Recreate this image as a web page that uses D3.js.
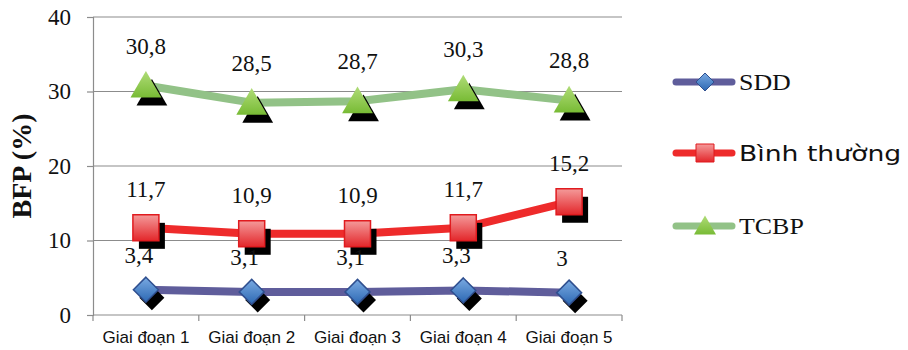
<!DOCTYPE html>
<html>
<head>
<meta charset="utf-8">
<script src="https://cdn.jsdelivr.net/npm/d3@7"></script>
<style>
  html, body { margin: 0; padding: 0; background: #fff; }
  svg { display: block; }
</style>
</head>
<body>
<svg id="chart" width="908" height="350"></svg>
<script>
// Body fat percentage (BFP) by stage for three nutrition groups
const categories = ["Giai đoạn 1", "Giai đoạn 2", "Giai đoạn 3", "Giai đoạn 4", "Giai đoạn 5"];
const sddValues = [3.4, 3.1, 3.1, 3.3, 3.0];
const binhThuongValues = [11.7, 10.9, 10.9, 11.7, 15.2];
const tcbpValues = [30.8, 28.5, 28.7, 30.3, 28.8];
const yTicks = [0, 10, 20, 30, 40];
const seriesNames = ["SDD", "Bình thường", "TCBP"];

const SERIF = "'Liberation Serif', 'Times New Roman', serif";
const SANS = "'Liberation Sans', Arial, sans-serif";
const LEGEND_SANS = "'DejaVu Sans', Verdana, sans-serif";

const series = [
  { name: seriesNames[0], values: sddValues, line: "#5f5d9b", shape: "diamond", grad: ["#7aaae2", "#2c68b3"], stroke: "#2f4f8f",
    font: SERIF, size: 24, sx: 1.08, labelDx: -7, labelDy: -27 },
  { name: seriesNames[1], values: binhThuongValues, line: "#ee2b2b", shape: "square", grad: ["#f49a9a", "#e3262a"], stroke: "#e01b1f",
    font: LEGEND_SANS, size: 21.5, sx: 1.24, labelDx: 0, labelDy: -31 },
  { name: seriesNames[2], values: tcbpValues, line: "#92c287", shape: "triangle", grad: ["#b0dc78", "#78bb35"], stroke: "none",
    font: SERIF, size: 24, sx: 1.08, labelDx: 0, labelDy: -32 }
];

const svg = d3.select("#chart");
const margin = { left: 93, right: 286, top: 17, bottom: 35 };
const W = 908, H = 350;

const x = d3.scaleBand().domain(categories).range([margin.left, W - margin.right]).paddingInner(0).paddingOuter(0);
const y = d3.scaleLinear().domain([0, 40]).range([H - margin.bottom, margin.top]);

const defs = svg.append("defs");
series.forEach((s, i) => {
  const g = defs.append("linearGradient").attr("id", "grad" + i)
    .attr("x1", 0).attr("y1", 0).attr("x2", 0).attr("y2", 1);
  g.append("stop").attr("offset", "0%").attr("stop-color", s.grad[0]);
  g.append("stop").attr("offset", "100%").attr("stop-color", s.grad[1]);
});

// Horizontal gridlines
svg.append("g").selectAll("line").data(yTicks.filter(d => d > 0)).join("line")
  .attr("x1", margin.left).attr("x2", W - margin.right)
  .attr("y1", d => y(d)).attr("y2", d => y(d))
  .attr("stroke", "#8c8c8c").attr("stroke-width", 1.2);

// Y axis
const yAxis = svg.append("g").attr("transform", `translate(${margin.left},0)`)
  .call(d3.axisLeft(y).tickValues(yTicks).tickSize(6).tickPadding(16).tickFormat(d3.format("d")));
yAxis.select(".domain").attr("stroke", "#8c8c8c").attr("stroke-width", 1.2);
yAxis.selectAll(".tick line").attr("stroke", "#8c8c8c").attr("stroke-width", 1.2);
yAxis.selectAll("text").attr("font-family", SERIF)
  .attr("font-size", 23).attr("fill", "#111");

// X axis with boundary tick marks
const xAxisG = svg.append("g").attr("transform", `translate(0,${y(0)})`);
xAxisG.append("line").attr("x1", margin.left).attr("x2", W - margin.right)
  .attr("y1", 0).attr("y2", 0).attr("stroke", "#8c8c8c").attr("stroke-width", 1.2);
const bounds = categories.map(c => x(c)).concat([x(categories[categories.length - 1]) + x.bandwidth()]);
xAxisG.selectAll("line.tk").data(bounds).join("line").attr("class", "tk")
  .attr("x1", d => d).attr("x2", d => d).attr("y1", 0).attr("y2", 6)
  .attr("stroke", "#8c8c8c").attr("stroke-width", 1.2);
xAxisG.selectAll("text").data(categories).join("text")
  .attr("x", d => x(d) + x.bandwidth() / 2).attr("y", 28)
  .attr("text-anchor", "middle")
  .attr("font-family", SANS).attr("font-size", 17)
  .attr("fill", "#111").text(d => d);

// Y axis title
svg.append("text")
  .attr("transform", `translate(31,${(y(0) + y(40)) / 2}) rotate(-90)`)
  .attr("text-anchor", "middle")
  .attr("font-family", SERIF)
  .attr("font-weight", "bold").attr("font-size", 28).attr("fill", "#111")
  .text("BFP (%)");

function shapePath(shape, r) {
  if (shape === "diamond") return `M0,${-r}L${r},0L0,${r}L${-r},0Z`;
  if (shape === "square") return `M${-r},${-r}H${r}V${r}H${-r}Z`;
  const h = r * 1.9;
  return `M0,${-h * 0.55}L${r * 1.1},${h * 0.45}L${-r * 1.1},${h * 0.45}Z`;
}
const markerSize = { diamond: 12.5, square: 13, triangle: 14 };

const cx = c => x(c) + x.bandwidth() / 2;
const line = d3.line().x((d, i) => cx(categories[i])).y(d => y(d));

// Lines
series.forEach(s => {
  svg.append("path").datum(s.values)
    .attr("d", line).attr("fill", "none")
    .attr("stroke", s.line).attr("stroke-width", 8)
    .attr("stroke-linejoin", "round");
});

// Markers with drop shadow
series.forEach((s, si) => {
  const g = svg.append("g");
  const r = markerSize[s.shape];
  g.selectAll("path.sh").data(s.values).join("path").attr("class", "sh")
    .attr("transform", (d, i) => `translate(${cx(categories[i]) + 6},${y(d) + 8})`)
    .attr("d", shapePath(s.shape, r)).attr("fill", "#000");
  g.selectAll("path.mk").data(s.values).join("path").attr("class", "mk")
    .attr("transform", (d, i) => `translate(${cx(categories[i])},${y(d)})`)
    .attr("d", shapePath(s.shape, r))
    .attr("fill", `url(#grad${si})`)
    .attr("stroke", s.stroke).attr("stroke-width", 1.5);
});

// Data labels
const fmt = v => String(v).replace(".", ",");
series.forEach(s => {
  svg.append("g").selectAll("text").data(s.values).join("text")
    .attr("x", (d, i) => cx(categories[i]) + s.labelDx)
    .attr("y", d => y(d) + s.labelDy)
    .attr("text-anchor", "middle")
    .attr("font-family", SERIF)
    .attr("font-size", 23).attr("fill", "#111")
    .text(d => fmt(d));
});

// Legend
const legendY = [82, 153, 226];
const lg = svg.append("g");
series.forEach((s, i) => {
  const gy = legendY[i];
  const item = lg.append("g").attr("transform", `translate(0,${gy})`);
  item.append("line").attr("x1", 676).attr("x2", 732).attr("y1", 0).attr("y2", 0)
    .attr("stroke", s.line).attr("stroke-width", 7).attr("stroke-linecap", "round");
  const r = s.shape === "triangle" ? 10 : 9;
  item.append("path").attr("transform", "translate(705,0)")
    .attr("d", shapePath(s.shape, r))
    .attr("fill", `url(#grad${i})`).attr("stroke", s.stroke).attr("stroke-width", 1);
  item.append("text").attr("transform", `translate(739,0) scale(${s.sx},1)`)
    .attr("dy", "0.35em")
    .attr("font-family", s.font)
    .attr("font-size", s.size).attr("fill", "#111")
    .text(s.name);
});
</script>
</body>
</html>
